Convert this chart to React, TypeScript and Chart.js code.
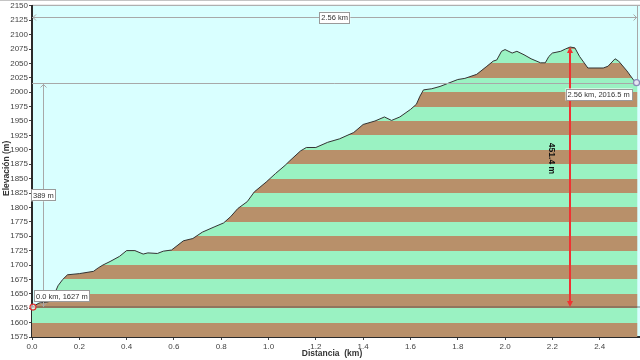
import React, { useEffect, useRef } from "react";
import { Chart, registerables } from "chart.js";

Chart.register(...registerables);

// ---- data ----
const distancesKm = [
  0.0, 0.03, 0.07, 0.09, 0.11, 0.13, 0.15, 0.2, 0.26, 0.28, 0.3, 0.33, 0.37, 0.4, 0.435, 0.47, 0.49, 0.53,
  0.555, 0.59, 0.64, 0.68, 0.72, 0.77, 0.81, 0.84, 0.87, 0.91, 0.94, 0.99, 1.03, 1.07, 1.09, 1.135, 1.16,
  1.2, 1.25, 1.3, 1.36, 1.4, 1.45, 1.49, 1.52, 1.555, 1.6, 1.625, 1.64, 1.655, 1.69, 1.725, 1.8, 1.83,
  1.88, 1.92, 1.95, 1.965, 1.985, 2.0, 2.03, 2.05, 2.08, 2.11, 2.15, 2.17, 2.185, 2.2, 2.235, 2.255,
  2.275, 2.295, 2.315, 2.35, 2.415, 2.435, 2.465, 2.48, 2.515, 2.545, 2.56,
];
const elevationsM = [
  1627, 1634, 1636, 1645, 1664, 1675, 1683, 1685, 1689, 1695, 1700, 1706, 1715, 1725, 1725, 1719, 1721, 1720,
  1724, 1726, 1742, 1746, 1757, 1766, 1773, 1784, 1798, 1810, 1827, 1844, 1859, 1873, 1881, 1898, 1904,
  1904, 1913, 1919, 1930, 1944, 1950, 1957, 1951, 1957, 1970, 1979, 1993, 2004, 2006, 2010, 2022, 2024,
  2031, 2044, 2054, 2056, 2071, 2074, 2068, 2071, 2065, 2058, 2051, 2051, 2062, 2068, 2071, 2075,
  2078.4, 2077, 2062, 2042, 2042, 2045, 2058, 2054, 2037, 2020, 2016.5,
];

const xMin = 0;
const xMax = 2.6;
const xStep = 0.2;
const yMin = 1575;
const yMax = 2150;
const yStep = 25;

const startPoint = { km: 0, m: 1627 };
const endPoint = { km: 2.56, m: 2016.5 };
const peakPoint = { km: 2.275, m: 2078.4 };
const spanLineElevation = 2131;
const riseLineKm = 0.047;
const climbLabelElevation = 1885;

const spanLabel = "2.56 km";
const riseLabel = "389 m";
const climbLabel = "451.4 m";
const startLabel = "0.0 km, 1627 m";
const endLabel = "2.56 km, 2016.5 m";
const yTitle = "Elevación (m)";
const xTitle = "Distancia  (km)";

// ---- styles ----
const SKY = "#D9FFFF";
const GREEN = "#9AF2C2";
const BROWN = "#B8906A";
const GUIDE = "#A8A8A8";
const RED = "#F03232";
const FONT = "'Liberation Sans', Arial, sans-serif";
const BOX_FONT = `7.5px ${FONT}`;

function measure(ctx: CanvasRenderingContext2D, text: string) {
  ctx.save();
  ctx.font = BOX_FONT;
  const w = Math.ceil(ctx.measureText(text).width) + 4;
  ctx.restore();
  return w;
}

function box(ctx: CanvasRenderingContext2D, text: string, left: number, top: number) {
  ctx.save();
  const w = measure(ctx, text);
  const h = 12;
  ctx.font = BOX_FONT;
  ctx.fillStyle = "#FFFFFF";
  ctx.fillRect(left, top, w, h);
  ctx.strokeStyle = "#9A9A9A";
  ctx.lineWidth = 1;
  ctx.strokeRect(Math.round(left) + 0.5, Math.round(top) + 0.5, w - 1, h - 1);
  ctx.fillStyle = "#333333";
  ctx.textBaseline = "middle";
  ctx.textAlign = "left";
  ctx.fillText(text, left + 2, top + h / 2 + 0.5);
  ctx.restore();
  return w;
}

function chevron(ctx: CanvasRenderingContext2D, x: number, y: number, dir: "l" | "r" | "u" | "d") {
  const s = 3;
  ctx.beginPath();
  if (dir === "l") { ctx.moveTo(x + s, y - s); ctx.lineTo(x, y); ctx.lineTo(x + s, y + s); }
  if (dir === "r") { ctx.moveTo(x - s, y - s); ctx.lineTo(x, y); ctx.lineTo(x - s, y + s); }
  if (dir === "u") { ctx.moveTo(x - s, y + s); ctx.lineTo(x, y); ctx.lineTo(x + s, y + s); }
  if (dir === "d") { ctx.moveTo(x - s, y - s); ctx.lineTo(x, y); ctx.lineTo(x + s, y - s); }
  ctx.stroke();
}

const decorPlugin = {
  id: "decor",
  beforeDraw(chart: any) {
    const { ctx, chartArea, width, height } = chart;
    ctx.save();
    ctx.fillStyle = "#FFFFFF";
    ctx.fillRect(0, 0, width, height);
    ctx.fillStyle = "#C4C4C4";
    ctx.fillRect(0, 0, width, 1);
    ctx.fillStyle = SKY;
    ctx.fillRect(chartArea.left, chartArea.top, chartArea.right - chartArea.left, chartArea.bottom - chartArea.top);
    ctx.fillStyle = "#9C9C9C";
    ctx.fillRect(chartArea.left, chartArea.top - 1, chartArea.right - chartArea.left, 1);
    ctx.restore();
  },
  afterDatasetsDraw(chart: any) {
    const { ctx, chartArea } = chart;
    const xs = chart.scales.x;
    const ys = chart.scales.y;
    const px = (v: number) => xs.getPixelForValue(v);
    const py = (v: number) => ys.getPixelForValue(v);

    ctx.save();
    // base line at start elevation
    ctx.strokeStyle = "rgba(70,70,70,0.35)";
    ctx.lineWidth = 2;
    ctx.beginPath();
    ctx.moveTo(px(startPoint.km), py(startPoint.m));
    ctx.lineTo(chartArea.right, py(startPoint.m));
    ctx.stroke();

    // guide lines
    ctx.strokeStyle = GUIDE;
    ctx.lineWidth = 1;
    const ySpan = Math.round(py(spanLineElevation)) + 0.5;
    const yEnd = Math.round(py(endPoint.m)) + 0.5;
    const xEnd = px(endPoint.km);
    const xRise = Math.round(px(riseLineKm)) + 0.5;
    ctx.beginPath();
    ctx.moveTo(px(startPoint.km), ySpan);
    ctx.lineTo(xEnd, ySpan);
    ctx.moveTo(px(startPoint.km), yEnd);
    ctx.lineTo(xEnd, yEnd);
    ctx.moveTo(Math.round(xEnd) - 0.5, chartArea.top);
    ctx.lineTo(Math.round(xEnd) - 0.5, yEnd);
    ctx.moveTo(xRise, yEnd);
    ctx.lineTo(xRise, py(startPoint.m));
    ctx.stroke();
    chevron(ctx, px(startPoint.km) + 1, ySpan, "l");
    chevron(ctx, xEnd - 1, ySpan, "r");
    chevron(ctx, xRise, yEnd + 1, "u");
    chevron(ctx, xRise, py(startPoint.m) - 1, "d");

    // red climb arrow
    const xPeak = Math.round(px(peakPoint.km));
    const yTop = py(peakPoint.m);
    const yBot = py(startPoint.m);
    ctx.strokeStyle = RED;
    ctx.fillStyle = RED;
    ctx.lineWidth = 2;
    ctx.beginPath();
    ctx.moveTo(xPeak, yTop + 3);
    ctx.lineTo(xPeak, yBot - 3);
    ctx.stroke();
    ctx.beginPath();
    ctx.moveTo(xPeak, yTop);
    ctx.lineTo(xPeak - 3, yTop + 6);
    ctx.lineTo(xPeak + 3, yTop + 6);
    ctx.closePath();
    ctx.fill();
    ctx.beginPath();
    ctx.moveTo(xPeak, yBot);
    ctx.lineTo(xPeak - 3, yBot - 6);
    ctx.lineTo(xPeak + 3, yBot - 6);
    ctx.closePath();
    ctx.fill();

    // markers
    ctx.lineWidth = 1.2;
    ctx.strokeStyle = "#E03030";
    ctx.fillStyle = "rgba(255,255,255,0.6)";
    ctx.beginPath();
    ctx.arc(px(startPoint.km) + 1, py(startPoint.m), 3, 0, Math.PI * 2);
    ctx.fill();
    ctx.stroke();
    ctx.strokeStyle = "#8A8AB8";
    ctx.fillStyle = "#E6E6F2";
    ctx.beginPath();
    ctx.arc(xEnd - 1, py(endPoint.m), 3, 0, Math.PI * 2);
    ctx.fill();
    ctx.stroke();

    // label boxes
    const spanW = measure(ctx, spanLabel);
    box(ctx, spanLabel, (px(startPoint.km) + xEnd) / 2 - spanW / 2, ySpan - 6);
    const riseW = measure(ctx, riseLabel);
    box(ctx, riseLabel, xRise - riseW / 2, (yEnd + py(startPoint.m)) / 2 - 6);
    box(ctx, startLabel, px(startPoint.km) + 2, py(startPoint.m) - 17);
    const endW = measure(ctx, endLabel);
    box(ctx, endLabel, xEnd - 5 - endW, yEnd + 5);

    // rotated climb label
    ctx.save();
    ctx.translate(xPeak - 19, py(climbLabelElevation));
    ctx.rotate(Math.PI / 2);
    ctx.font = `bold 8.5px ${FONT}`;
    ctx.fillStyle = "#111111";
    ctx.textAlign = "center";
    ctx.textBaseline = "middle";
    ctx.fillText(climbLabel, 0, 0);
    ctx.restore();

    // axis titles
    ctx.font = `bold 8.5px ${FONT}`;
    ctx.fillStyle = "#333333";
    ctx.textAlign = "center";
    ctx.textBaseline = "middle";
    ctx.fillText(xTitle, 332, chartArea.bottom + 17);
    ctx.save();
    ctx.translate(7, (chartArea.top + chartArea.bottom) / 2 - 3);
    ctx.rotate(-Math.PI / 2);
    ctx.fillText(yTitle, 0, 0);
    ctx.restore();

    ctx.restore();
  },
};

export default function App() {
  const canvasRef = useRef<HTMLCanvasElement | null>(null);

  useEffect(() => {
    const canvas = canvasRef.current;
    if (!canvas) return;
    const points = distancesKm.map((d, i) => ({ x: d, y: elevationsM[i] }));
    const chart = new Chart(canvas, {
      type: "line",
      data: {
        datasets: [
          {
            data: points,
            borderColor: "#333333",
            borderWidth: 1,
            pointRadius: 0,
            tension: 0,
            fill: "start",
            backgroundColor: (context: any) => {
              const c = context.chart;
              if (!c.chartArea) return GREEN;
              const ys = c.scales.y;
              const bottom = ys.getPixelForValue(yMin);
              const top = ys.getPixelForValue(yMax);
              const g = c.ctx.createLinearGradient(0, bottom, 0, top);
              const n = Math.round((yMax - yMin) / yStep);
              for (let i = 0; i < n; i++) {
                const col = i % 2 === 0 ? BROWN : GREEN;
                g.addColorStop(i / n, col);
                g.addColorStop((i + 1) / n, col);
              }
              return g;
            },
          },
        ],
      },
      options: {
        animation: false,
        responsive: false,
        devicePixelRatio: 1,
        layout: { padding: { left: 0, top: 5, right: 13, bottom: 0 } },
        plugins: { legend: { display: false }, tooltip: { enabled: false }, title: { display: false } },
        scales: {
          x: {
            type: "linear",
            min: xMin,
            max: xMax,
            afterFit: (s: any) => { s.height = 23; },
            afterBuildTicks: (s: any) => {
              const t = [];
              for (let v = xMin; v <= xMax + 1e-9; v += xStep) t.push({ value: Math.round(v * 10) / 10 });
              s.ticks = t;
            },
            ticks: {
              callback: (v: any) => Number(v).toFixed(1),
              color: "#444444",
              font: { family: FONT, size: 8 },
              padding: 2,
              maxRotation: 0,
              autoSkip: false,
            },
            grid: { drawOnChartArea: false, drawTicks: true, tickLength: 3, color: "#444444" },
            border: { display: true, color: "#2A2A2A", width: 2 },
          },
          y: {
            type: "linear",
            min: yMin,
            max: yMax,
            afterFit: (s: any) => { s.width = 32; },
            ticks: {
              stepSize: yStep,
              callback: (v: any) => String(Math.round(Number(v))),
              color: "#444444",
              font: { family: FONT, size: 8 },
              padding: 1,
              autoSkip: false,
            },
            grid: { drawOnChartArea: false, drawTicks: true, tickLength: 3, color: "#444444" },
            border: { display: true, color: "#2A2A2A", width: 2 },
          },
        },
      },
      plugins: [decorPlugin],
    });
    return () => chart.destroy();
  }, []);

  return (
    <div style={{ position: "fixed", left: 0, top: 0, width: 640, height: 360, overflow: "hidden", background: "#fff" }}>
      <canvas ref={canvasRef} width={660} height={360} style={{ display: "block" }} />
    </div>
  );
}
